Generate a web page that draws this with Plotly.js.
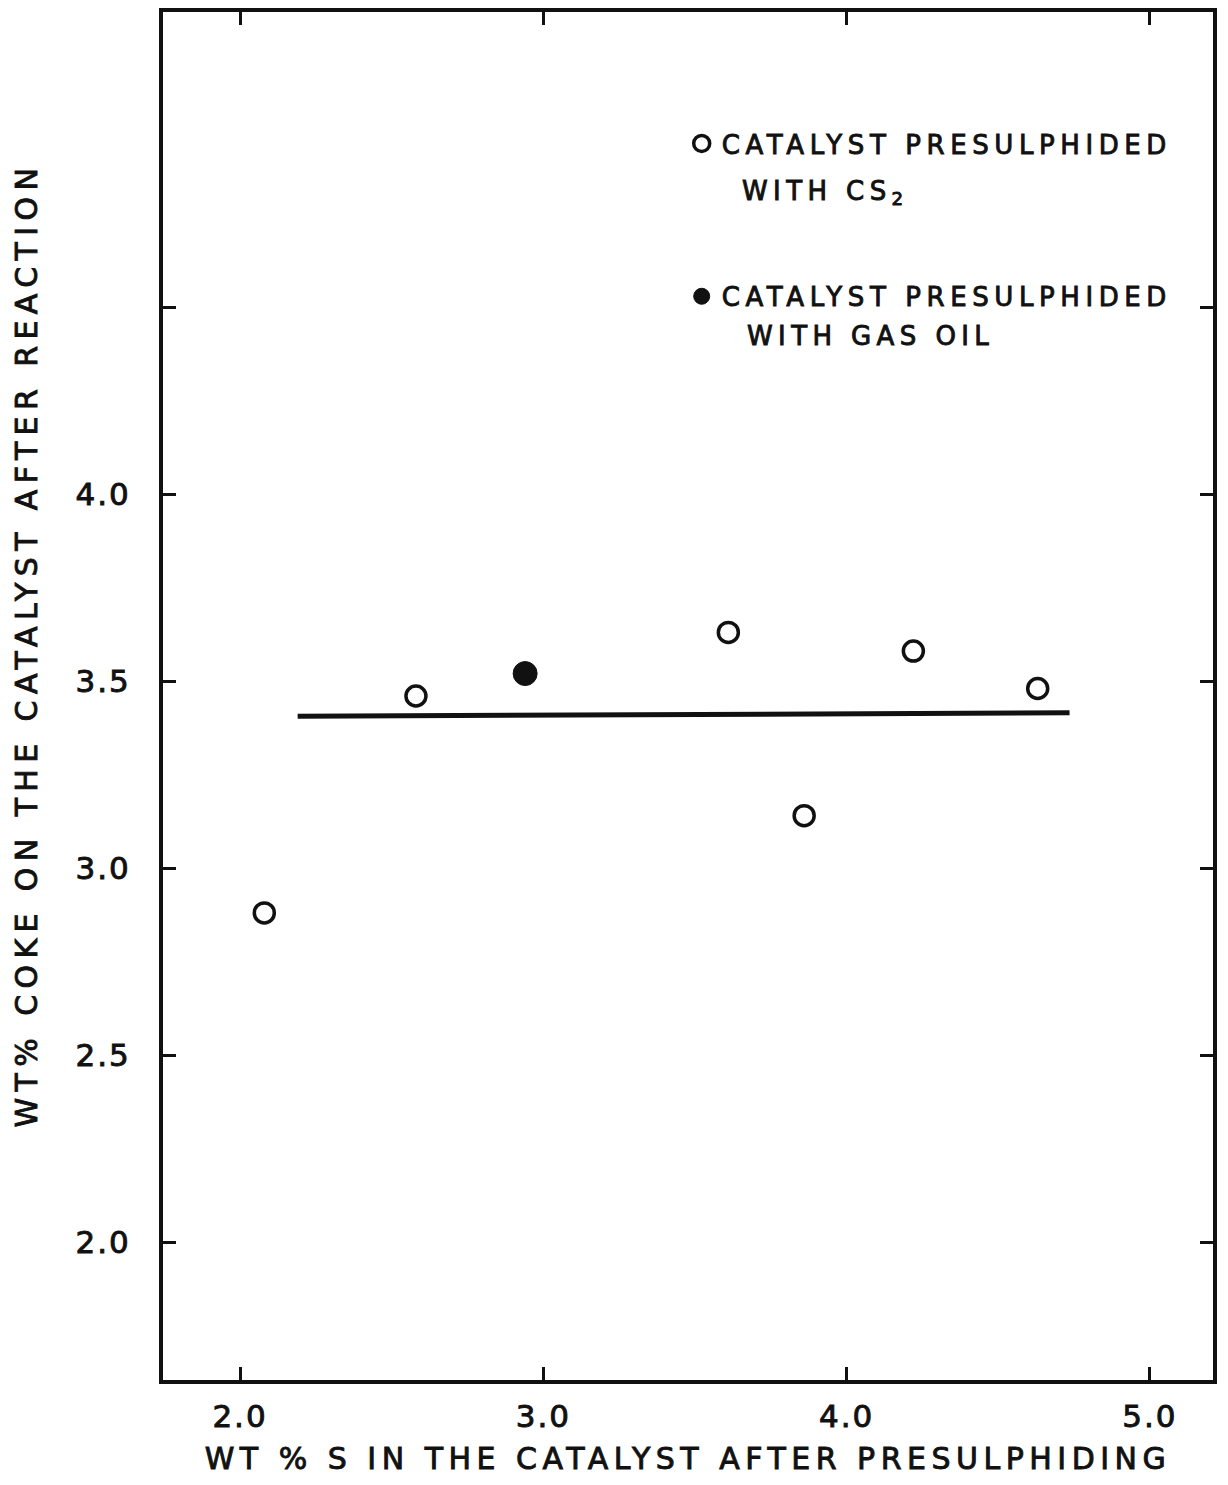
<!DOCTYPE html>
<html>
<head>
<meta charset="utf-8">
<script src="https://cdn.plot.ly/plotly-3.0.1.min.js"></script>
<style>
  html, body { margin: 0; padding: 0; background: #fff; }
  #chart { width: 1228px; height: 1485px; }
  svg text { stroke: #111; stroke-width: 0.9px; }
  text.legendtext { letter-spacing: 5.6px; }
  text.annotation-text { letter-spacing: 5.4px; }
  text.xtitle { letter-spacing: 5.5px; }
  .ytitle-ann text.annotation-text { letter-spacing: 6.4px; }
  .xtick text, .ytick text { letter-spacing: 2px; }
</style>
</head>
<body>
<div id="chart"></div>
<script>
// ---- data ----
const xTickVals = [2.0, 3.0, 4.0, 5.0];
const xTickText = ["2.0", "3.0", "4.0", "5.0"];
const yTickVals = [2.0, 2.5, 3.0, 3.5, 4.0];
const yTickText = ["2.0", "2.5", "3.0", "3.5", "4.0"];
const yUnlabelledTicks = [4.5];

const cs2X = [2.08, 2.58, 3.61, 3.86, 4.22, 4.63];
const cs2Y = [2.88, 3.46, 3.63, 3.14, 3.58, 3.48];

const gasOilX = [2.94];
const gasOilY = [3.52];

const fitX = [2.19, 4.735];
const fitY = [3.406, 3.415];

const seriesNames = ["CATALYST PRESULPHIDED", "CATALYST PRESULPHIDED"];
const seriesSecondLines = ["WITH CS<sub>2</sub>", "WITH GAS OIL"];

const xTitle = "WT % S IN THE CATALYST AFTER PRESULPHIDING";
const yTitle = "WT% COKE ON THE CATALYST AFTER REACTION";

const FONT = "DejaVu Sans, Liberation Sans, sans-serif";
const INK = "#111";

const traces = [
  {
    x: fitX, y: fitY, type: "scatter", mode: "lines",
    line: { color: INK, width: 5 },
    showlegend: false, hoverinfo: "skip"
  },
  {
    x: cs2X, y: cs2Y, type: "scatter", mode: "markers",
    name: seriesNames[0], legendgroup: "a",
    marker: { symbol: "circle", size: 20, color: "#fff", line: { color: INK, width: 3.5 } }
  },
  {
    x: gasOilX, y: gasOilY, type: "scatter", mode: "markers",
    name: seriesNames[1], legendgroup: "b",
    marker: { symbol: "circle", size: 24, color: INK, line: { color: INK, width: 1 } }
  }
];

const axisCommon = {
  showgrid: false, zeroline: false,
  showline: true, linecolor: INK, linewidth: 4, mirror: "ticks",
  ticks: "inside", ticklen: 13, tickwidth: 3, tickcolor: INK,
  tickmode: "array",
  tickfont: { family: FONT, size: 31, color: INK }
};

const layout = {
  width: 1228, height: 1485,
  paper_bgcolor: "#fff", plot_bgcolor: "#fff",
  margin: { l: 163, r: 15, t: 12, b: 105 },
  font: { family: FONT, color: INK },
  xaxis: Object.assign({}, axisCommon, {
    range: [1.746, 5.208],
    tickvals: xTickVals, ticktext: xTickText,
    ticklabelstandoff: 6,
    title: { text: xTitle, font: { family: FONT, size: 30, color: INK }, standoff: 16 }
  }),
  yaxis: Object.assign({}, axisCommon, {
    range: [1.631, 5.289],
    tickvals: yTickVals, ticktext: yTickText,
    ticklabelstandoff: 22,
    minor: {
      tickmode: "array", tickvals: yUnlabelledTicks,
      ticks: "inside", ticklen: 13, tickwidth: 3, tickcolor: INK, showgrid: false
    }
  }),
  showlegend: true,
  legend: {
    x: 0.494, y: 0.921, xanchor: "left", yanchor: "top",
    bgcolor: "rgba(0,0,0,0)", borderwidth: 0,
    traceorder: "grouped", tracegroupgap: 116,
    font: { family: FONT, size: 26, color: INK },
    itemsizing: "trace"
  },
  annotations: [
    {
      xref: "paper", yref: "paper", x: 0.5495, y: 0.8677,
      xanchor: "left", yanchor: "middle", showarrow: false,
      text: seriesSecondLines[0], font: { family: FONT, size: 26, color: INK }
    },
    {
      xref: "paper", yref: "paper", x: 0.5543, y: 0.7632,
      xanchor: "left", yanchor: "middle", showarrow: false,
      text: seriesSecondLines[1], font: { family: FONT, size: 26, color: INK }
    },
    {
      xref: "paper", yref: "paper", x: -0.1295, y: 0.5373,
      xanchor: "center", yanchor: "middle", showarrow: false, textangle: -90,
      text: yTitle, font: { family: FONT, size: 30, color: INK }
    }
  ]
};

Plotly.newPlot("chart", traces, layout, { staticPlot: true, displayModeBar: false }).then(function (gd) {
  // mark the y-axis title annotation so its letter spacing can be styled
  var anns = document.querySelectorAll("#chart .annotation");
  if (anns.length) anns[anns.length - 1].classList.add("ytitle-ann");
});
</script>
</body>
</html>
